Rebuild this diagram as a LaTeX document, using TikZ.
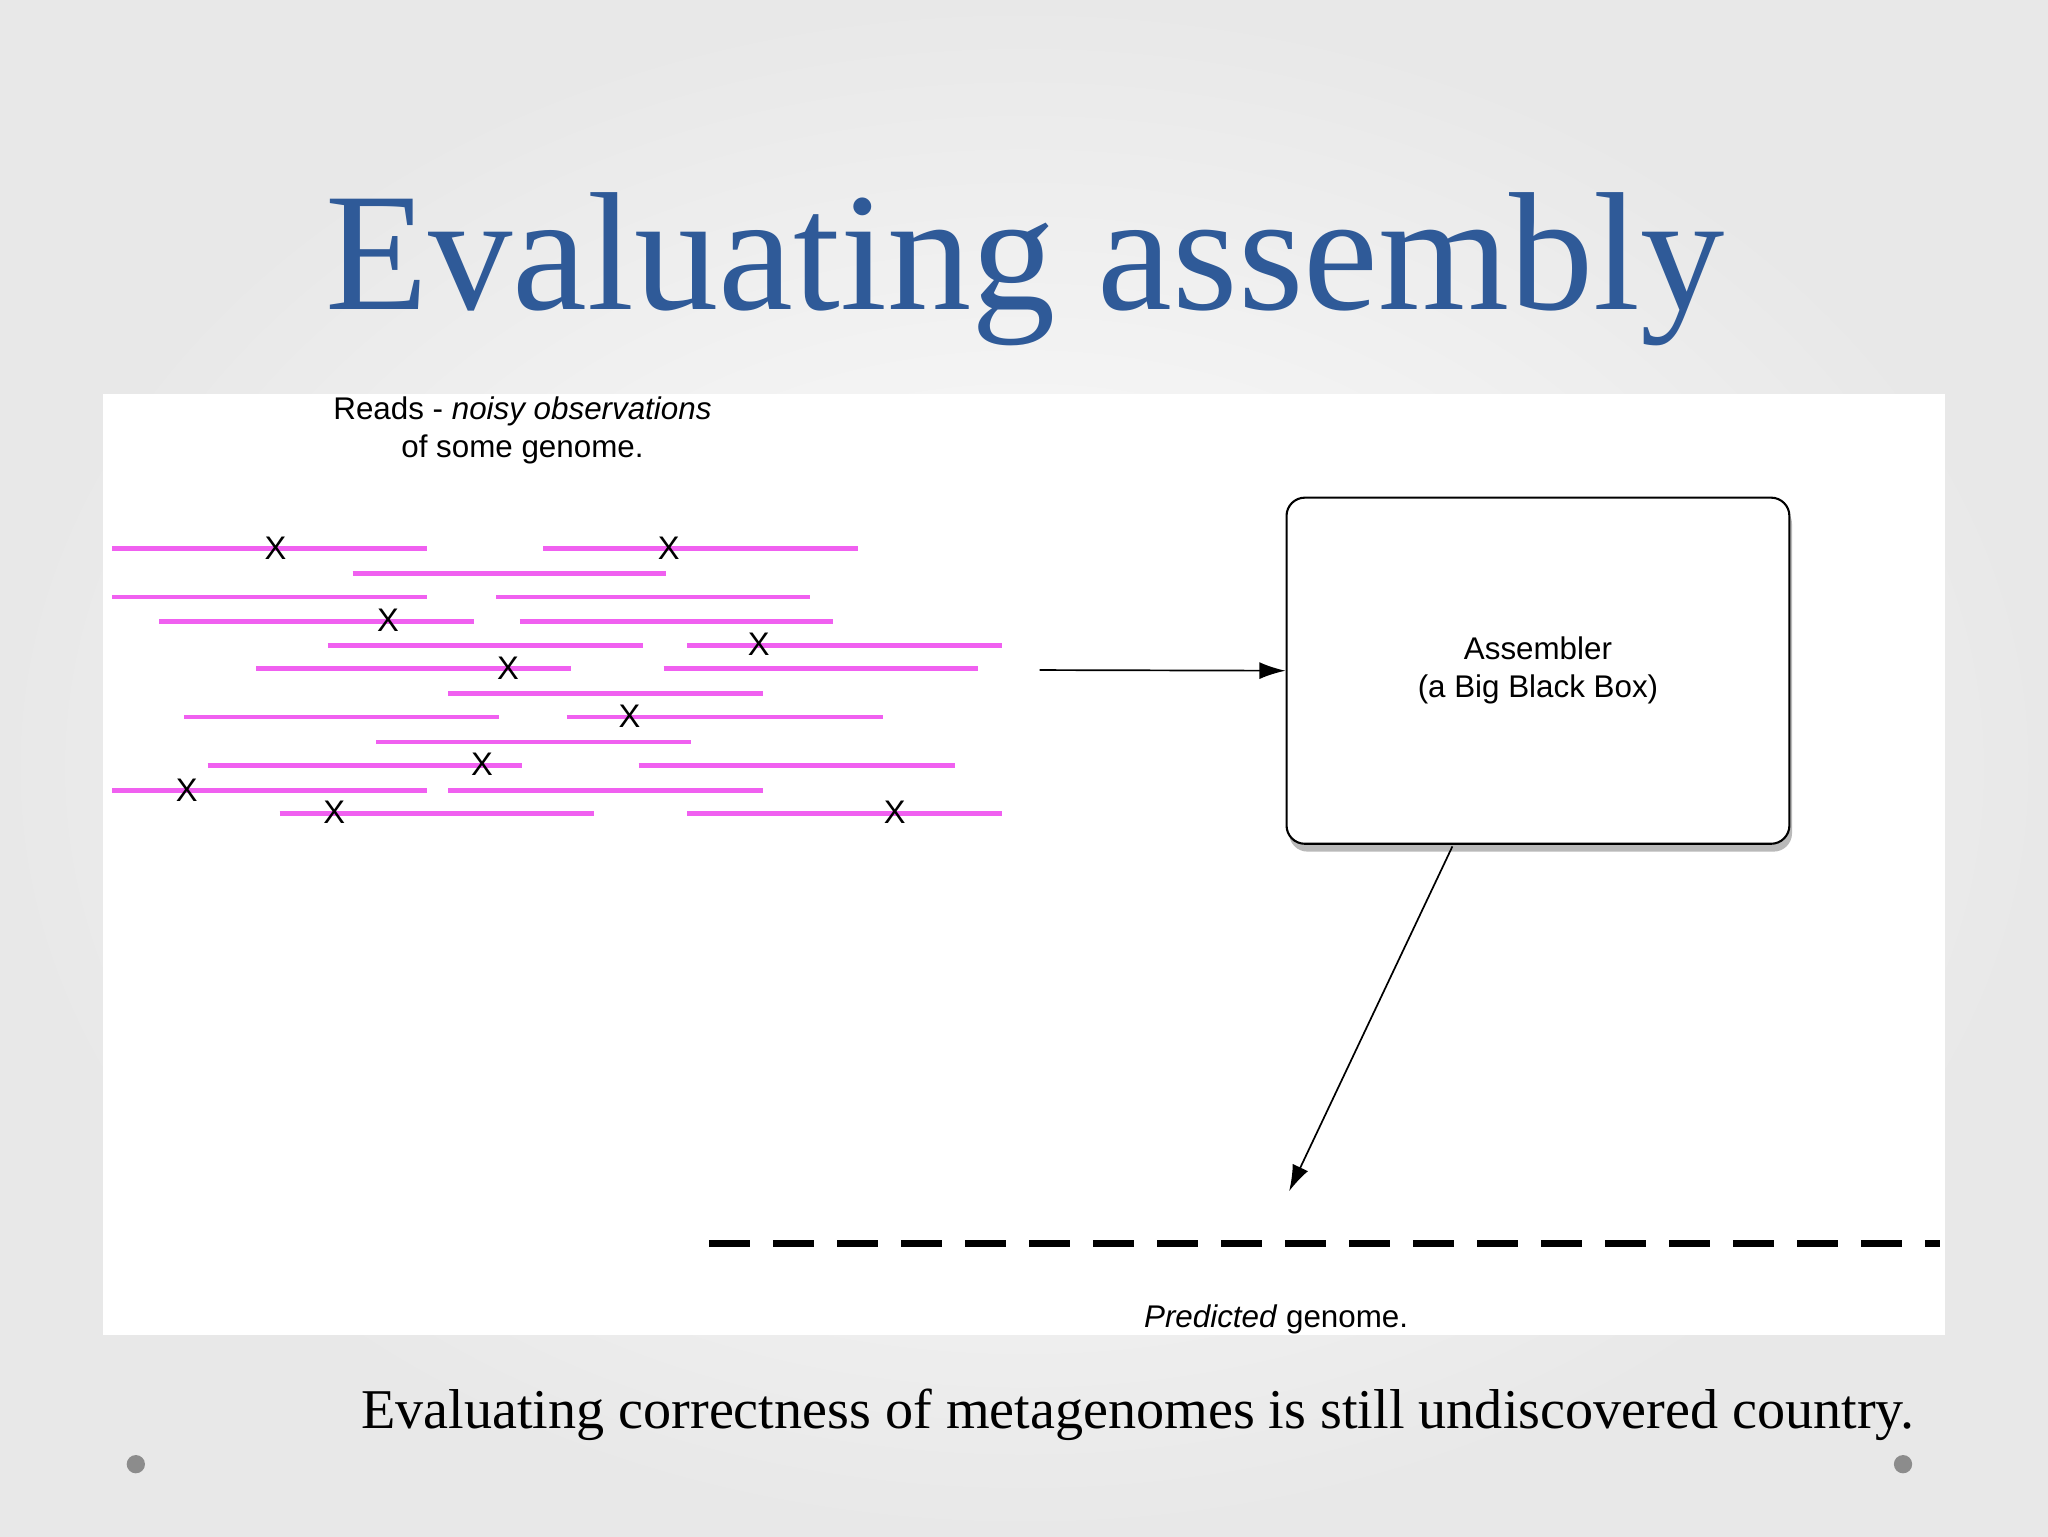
\documentclass[tikz,border=0pt]{standalone}
\usepackage{fontspec}
\setmainfont{Liberation Serif}
\setsansfont{Liberation Sans}
\usetikzlibrary{arrows.meta,shadows}
\definecolor{titleblue}{HTML}{2F5A98}
\definecolor{readpink}{HTML}{F060F0}
\begin{document}
\begin{tikzpicture}[x=1pt,y=-1pt,
  read/.style={readpink,line width=3.5pt},
  xmark/.style={font=\sffamily\fontsize{25}{25}\selectfont,inner sep=0pt},
  lbl/.style={font=\sffamily\fontsize{24}{29}\selectfont,align=center},
  arr/.style={-{Latex[length=20pt,width=13pt]},line width=1.3pt}]
\useasboundingbox (0,0) rectangle (1568,1176);
\shade[inner color=white,outer color=black!9] (0,0) rectangle (1568,1176);
\fill[white] (79,302) rectangle (1489,1022);
\node[font=\fontsize{129}{129}\selectfont,text=titleblue] (title) at (785,206) {Evaluating assembly};
\node[lbl,anchor=north] (reads) at (400,300) {Reads - \textit{noisy observations}\\of some genome.};
\foreach \y/\a/\b in {420/86/327,420/416/657,439/270/510,457/86/327,457/380/620,476/122/363,476/398/638,494/251/492,494/526/767,512/196/437,512/508/749,531/343/584,549/141/382,549/434/676,568/288/529,586/159/400,586/489/731,605/86/327,605/343/584,623/214/455,623/526/767}
  \draw[read] (\a,\y) -- (\b,\y);
\foreach \x/\y [count=\i] in {211/420,512/420,297/475,581/493,389/512,482/548,369/585,143/605,256/622,685/622}
  \node[xmark] (x\i) at (\x,\y) {X};
\node[draw,line width=1.6pt,rounded corners=14pt,minimum width=385pt,minimum height=265pt,fill=white,
  drop shadow={shadow xshift=2pt,shadow yshift=-6pt,opacity=0.55},lbl] (box) at (1177.5,513.5) {Assembler\\(a Big Black Box)};
\coordinate (src) at (796,513);
\draw[arr] (src) -- (box.west);
\coordinate (bs) at (1112,648);
\coordinate (bt) at (987,912);
\draw[arr] (bs) -- (bt);
\coordinate (d1) at (543,952);
\coordinate (d2) at (1485,952);
\draw[line width=5pt,dash pattern=on 31pt off 18pt] (d1) -- (d2);
\node[lbl] (pred) at (977,1010) {\textit{Predicted} genome.};
\node[font=\fontsize{43}{43}\selectfont] (bottom) at (871,1083) {Evaluating correctness of metagenomes is still undiscovered country.};
\fill[black!45] (104,1121) circle (7pt) (1457,1121) circle (7pt);
\end{tikzpicture}
\end{document}
